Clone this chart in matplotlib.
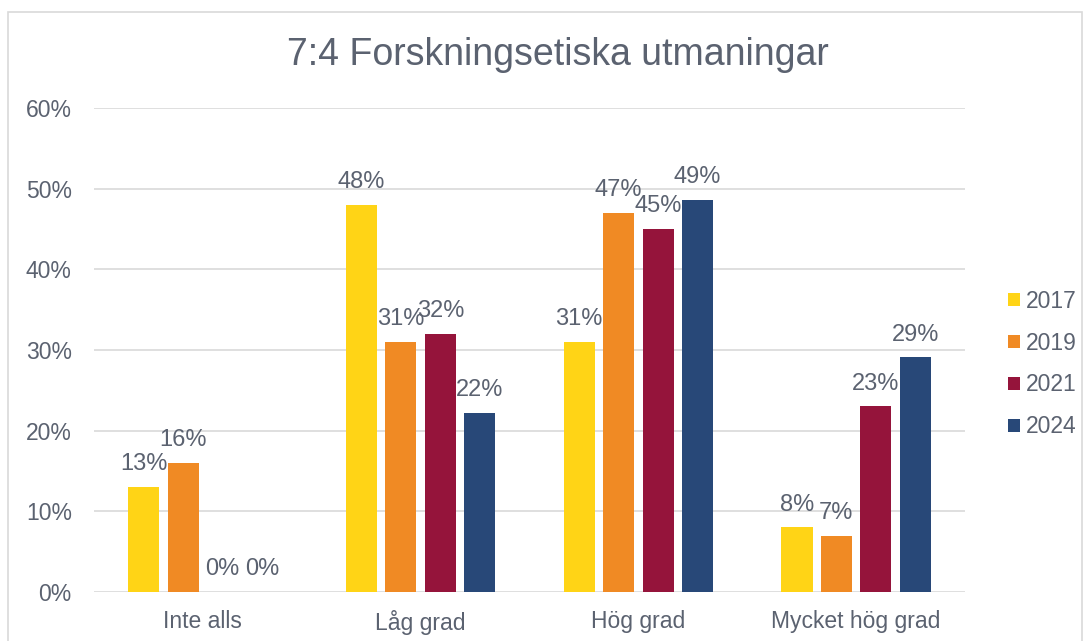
import numpy as np
import matplotlib.pyplot as plt
from matplotlib.patches import Rectangle

plt.rcParams['font.family'] = ['Liberation Sans', 'DejaVu Sans']

categories = ['Inte alls', 'Låg grad', 'Hög grad', 'Mycket hög grad']
years = ['2017', '2019', '2021', '2024']
v2017 = [13, 48, 31, 8]
v2019 = [16, 31, 47, 7]
v2021 = [0, 32, 45, 23]
v2024 = [0, 22.2, 48.6, 29.1]
colors = ['#FFD416', '#F08A24', '#95143B', '#284878']

text_color = '#5b6270'
grid_color = '#d9d9d9'

fig = plt.figure(figsize=(10.89, 6.41), dpi=100)
ax = fig.add_axes([94 / 1089, 49 / 641, 871 / 1089, 484 / 641])

# chart border
fig.patches.append(Rectangle((8 / 1089, -0.02), 1074 / 1089, 0.02 + 629 / 641,
                             transform=fig.transFigure, fill=False,
                             edgecolor='#d9d9d9', linewidth=1.2))

series = [v2017, v2019, v2021, v2024]
x = np.arange(len(categories))
step = 0.181
width = 0.143
for i, (vals, year, col) in enumerate(zip(series, years, colors)):
    pos = x + (i - 1.5) * step
    ax.bar(pos, vals, width=width, color=col, label=year, zorder=2)
    for p, v in zip(pos, vals):
        ax.annotate(f'{v:.0f}%', (p, v), xytext=(0, 12), textcoords='offset points',
                    ha='center', va='baseline', fontsize=17, color=text_color)

ax.set_xlim(-0.5, len(categories) - 0.5)
ax.set_ylim(0, 60)
ax.set_yticks(range(0, 61, 10))
ax.set_yticklabels([f'{t}%' for t in range(0, 61, 10)])
ax.set_xticks(x)
ax.set_xticklabels(categories)
ax.tick_params(axis='both', length=0, labelsize=16.5, labelcolor=text_color)
ax.tick_params(axis='y', pad=16)
ax.tick_params(axis='x', pad=13)
ax.yaxis.grid(True, color=grid_color, linewidth=1.2, zorder=0)
ax.set_axisbelow(True)
for s in ax.spines.values():
    s.set_visible(False)

fig.text(558 / 1089, 1 - 55 / 641, '7:4 Forskningsetiska utmaningar',
         ha='center', va='center', fontsize=27, color=text_color)

ax.legend(loc='center left', bbox_to_anchor=(1.026, 0.471), frameon=False,
          fontsize=16.5, labelcolor=text_color, handlelength=0.5,
          handleheight=0.5, handletextpad=0.25, labelspacing=0.82)

fig.savefig('out.png', dpi=100)
